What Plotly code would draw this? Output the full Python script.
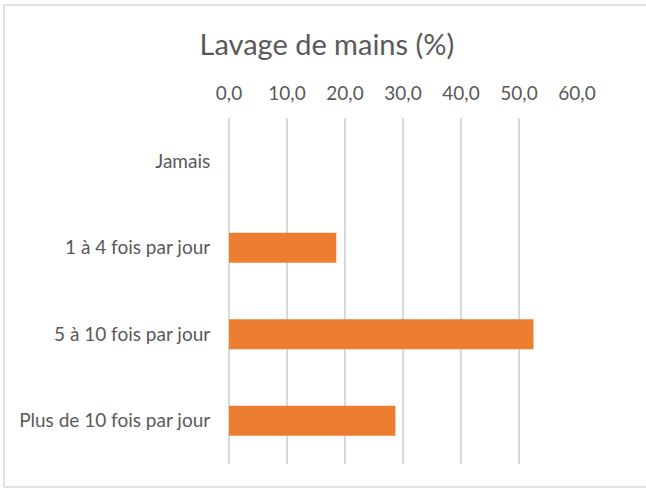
import plotly.graph_objects as go

categories = ["Jamais", "1 à 4 fois par jour", "5 à 10 fois par jour", "Plus de 10 fois par jour"]
values = [0.0, 18.5, 52.5, 28.7]
tick_vals = [0, 10, 20, 30, 40, 50, 60]
tick_text = ["0,0", "10,0", "20,0", "30,0", "40,0", "50,0", "60,0"]
title_text = "Lavage de mains (%)"

FONT = "Lato, Calibri, Carlito, sans-serif"
GREY = "#595959"
GRID = "#d9d9d9"

fig = go.Figure(go.Bar(
    x=values, y=categories, orientation="h",
    marker=dict(color="#ED7D31", line=dict(width=0)),
    hoverinfo="x+y",
))

# chart-area border (top, left, bottom); right edge lies outside the picture
L, T, B, R = 4 - 229, 464 - 5, -(487 - 464), 800 - 229
border = []
for (x0, y0, x1, y1) in [(L, T, R, T), (L, B, L, T), (L, B, R, B)]:
    border.append(dict(type="line", xref="paper", yref="paper",
                       xsizemode="pixel", ysizemode="pixel", xanchor=0, yanchor=0,
                       x0=x0, x1=x1, y0=y0, y1=y1,
                       line=dict(color=GRID, width=1.5), layer="below"))

fig.update_layout(
    width=646, height=488,
    margin=dict(l=229, r=69, t=118, b=24),
    paper_bgcolor="white", plot_bgcolor="white",
    bargap=0.654,
    showlegend=False,
    title=dict(text=title_text, x=0.506, xanchor="center", y=1 - 45/488, yanchor="middle",
               font=dict(family=FONT, size=29, color=GREY)),
    xaxis=dict(side="top", range=[0, 60], tickvals=tick_vals, ticktext=tick_text,
               showgrid=True, gridcolor=GRID, gridwidth=1.5,
               zeroline=True, zerolinecolor=GRID, zerolinewidth=1.5,
               showline=False, ticks="outside", ticklen=9, tickcolor="rgba(0,0,0,0)",
               tickfont=dict(family=FONT, size=19, color=GREY), fixedrange=True),
    yaxis=dict(categoryorder="array", categoryarray=categories, autorange="reversed",
               showgrid=False, zeroline=False, showline=False,
               ticks="outside", ticklen=14, tickcolor="rgba(0,0,0,0)",
               tickfont=dict(family=FONT, size=19, color=GREY), fixedrange=True),
    shapes=border,
)

fig.write_html("out.html", post_script="document.body.style.margin='0';",
               config={"displayModeBar": False})
